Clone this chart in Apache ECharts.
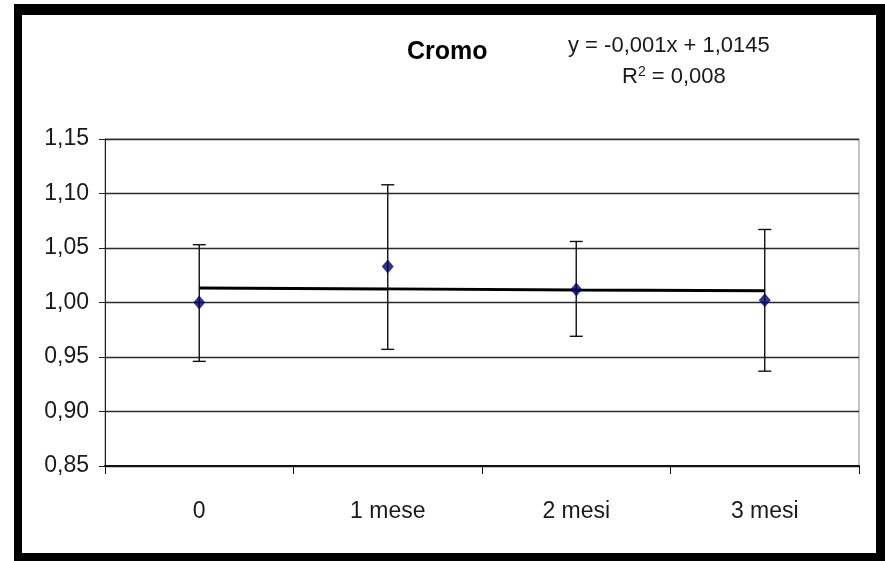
<!DOCTYPE html>
<html>
<head>
<meta charset="utf-8">
<style>html,body{margin:0;padding:0;background:#fff;}#c{width:885px;height:561px;}</style>
<script src="https://cdn.jsdelivr.net/npm/echarts@6/dist/echarts.min.js"></script>
</head>
<body>
<div id="c"></div>
<script>
const categories = ['0', '1 mese', '2 mesi', '3 mesi'];
const means = [1.000, 1.033, 1.012, 1.002];
const errHigh = [1.053, 1.108, 1.056, 1.067];
const errLow = [0.946, 0.957, 0.969, 0.937];
const trend = [1.0132, 1.0125, 1.0115, 1.0108];
const yTickValues = [0.85, 0.90, 0.95, 1.00, 1.05, 1.10, 1.15];
const yTickLabels = ['0,85', '0,90', '0,95', '1,00', '1,05', '1,10', '1,15'];
const titleText = 'Cromo';
const eqLine1 = 'y = -0,001x + 1,0145';
const eqLine2 = 'R{sup|2} = 0,008';

const chart = echarts.init(document.getElementById('c'));
const font = 'Liberation Sans, Arial, sans-serif';
const txt = '#1a1a1a';

const errData = categories.map((c, i) => [i, errHigh[i], errLow[i]]);

chart.setOption({
  animation: false,
  backgroundColor: '#fff',
  textStyle: { fontFamily: font },
  grid: { left: 105, right: 26, top: 139, bottom: 95, show: true, borderColor: '#8a8a8a', borderWidth: 1, backgroundColor: 'transparent' },
  graphic: [
    { type: 'rect', shape: { x: 14, y: 4, width: 871, height: 11 }, style: { fill: '#000' }, silent: true },
    { type: 'rect', shape: { x: 14, y: 553, width: 871, height: 8 }, style: { fill: '#000' }, silent: true },
    { type: 'rect', shape: { x: 14, y: 4, width: 8, height: 557 }, style: { fill: '#000' }, silent: true },
    { type: 'rect', shape: { x: 876, y: 4, width: 9, height: 557 }, style: { fill: '#000' }, silent: true },
    { type: 'text', left: 407, top: 40, style: { text: titleText, font: 'bold 25px ' + font, fill: '#000' } },
    { type: 'text', left: 568, top: 35, style: { text: eqLine1, font: '22px ' + font, fill: txt } },
    { type: 'text', left: 622, top: 65, style: {
        text: eqLine2, font: '22px ' + font, fill: txt,
        rich: { sup: { fontSize: 14, verticalAlign: 'top', padding: [0, 0, 10, 0], fill: txt } }
      } }
  ],
  xAxis: {
    type: 'category',
    data: categories,
    boundaryGap: true,
    axisLine: { lineStyle: { color: '#111', width: 2 } },
    axisTick: { show: true, length: 8, lineStyle: { color: '#111', width: 1 } },
    axisLabel: { color: txt, fontSize: 23, fontFamily: font, margin: 34 },
    splitLine: { show: false }
  },
  yAxis: {
    type: 'value',
    min: 0.85,
    max: 1.15,
    interval: 0.05,
    axisLine: { show: true, lineStyle: { color: '#222', width: 1 } },
    axisTick: { show: true, length: 6, lineStyle: { color: '#222' } },
    axisLabel: {
      color: txt, fontSize: 23, fontFamily: font, margin: 16,
      formatter: v => {
        const i = yTickValues.findIndex(t => Math.abs(t - v) < 1e-6);
        return i >= 0 ? yTickLabels[i] : '';
      }
    },
    splitLine: { show: true, lineStyle: { color: '#2a2a2a', width: 1.3 } }
  },
  series: [
    {
      type: 'custom',
      z: 2,
      data: errData,
      encode: { x: 0, y: [1, 2] },
      renderItem: (params, api) => {
        const x = api.value(0);
        const top = api.coord([x, api.value(1)]);
        const bot = api.coord([x, api.value(2)]);
        const hw = 6.5;
        const st = { stroke: '#111', lineWidth: 1.4 };
        return {
          type: 'group',
          children: [
            { type: 'line', shape: { x1: top[0], y1: top[1], x2: bot[0], y2: bot[1] }, style: st },
            { type: 'line', shape: { x1: top[0] - hw, y1: top[1], x2: top[0] + hw, y2: top[1] }, style: st },
            { type: 'line', shape: { x1: bot[0] - hw, y1: bot[1], x2: bot[0] + hw, y2: bot[1] }, style: st }
          ]
        };
      }
    },
    {
      type: 'line',
      z: 3,
      data: trend,
      symbol: 'none',
      lineStyle: { color: '#000', width: 3 }
    },
    {
      type: 'scatter',
      z: 4,
      data: means,
      symbol: 'diamond',
      symbolSize: [12, 14],
      itemStyle: { color: '#000070' }
    }
  ]
});
</script>
</body>
</html>
